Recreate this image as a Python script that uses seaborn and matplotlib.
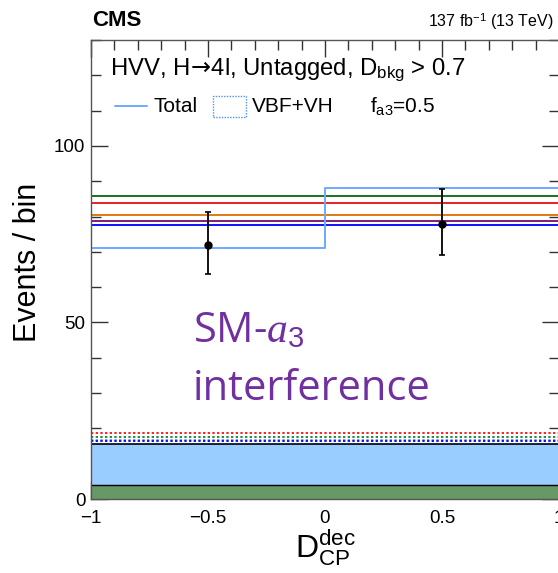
import matplotlib
matplotlib.use("Agg")
import matplotlib.pyplot as plt
import seaborn as sns
import numpy as np
import pandas as pd
from matplotlib.lines import Line2D
from matplotlib.patches import Rectangle
from matplotlib.ticker import MultipleLocator

# ---- data ----
bin_edges = [-1.0, 0.0, 1.0]
total_vbfvh = [71.1, 88.2]
obs_x = [-0.5, 0.5]
obs_y = [71.8, 78.0]
obs_err_lo = [8.2, 8.9]
obs_err_hi = [9.6, 9.9]
hyp_solid_vals = [85.7, 83.7, 80.4, 78.6, 77.7]
hyp_solid_cols = ["#1f6f1f", "#e8202a", "#e07a10", "#7a1f7a", "#1010ff"]
hyp_dot_vals = [18.6, 17.7, 16.7, 16.4]
hyp_dot_cols = ["#ff2020", "#2e8b2e", "#6a9cff", "#1010ff"]
bkg_zx = [4.0, 4.0]
bkg_total = [15.7, 15.7]

sns.set_theme(style="white")
plt.rcParams['font.family'] = ['Liberation Sans', 'DejaVu Sans']
plt.rcParams['text.color'] = 'black'
plt.rcParams['xtick.color'] = 'black'
plt.rcParams['ytick.color'] = 'black'
plt.rcParams['axes.labelcolor'] = 'black'
plt.rcParams['mathtext.fontset'] = 'custom'
plt.rcParams['mathtext.it'] = 'Liberation Serif:italic'
plt.rcParams['mathtext.rm'] = 'Liberation Sans'
plt.rcParams['mathtext.sf'] = 'DejaVu Sans'

W, H = 558, 573
fig = plt.figure(figsize=(W / 100, H / 100), dpi=100)
ax = fig.add_axes([91 / W, 1 - 499 / H, (559 - 91) / W, (499 - 40) / H])

# stacked fills
edges = np.array(bin_edges)
zx_steps = np.append(bkg_zx, bkg_zx[-1])
tot_steps = np.append(bkg_total, bkg_total[-1])
ax.fill_between(edges, 0, zx_steps, step="post", color="#669966", lw=0, zorder=1)
ax.fill_between(edges, zx_steps, tot_steps, step="post", color="#99ccff", lw=0, zorder=1)
ax.step(edges, zx_steps, where="post", color="black", lw=1.0, zorder=2)
ax.step(edges, tot_steps, where="post", color="black", lw=1.2, zorder=2)

# dotted hypothesis lines (low)
for v, c in zip(hyp_dot_vals, hyp_dot_cols):
    df = pd.DataFrame({"x": edges, "y": [v] * len(edges)})
    sns.lineplot(data=df, x="x", y="y", color=c, lw=1.4, ls=(0, (1.2, 1.2)), ax=ax, zorder=3)

# solid hypothesis lines
for v, c in zip(hyp_solid_vals, hyp_solid_cols):
    df = pd.DataFrame({"x": edges, "y": [v] * len(edges)})
    sns.lineplot(data=df, x="x", y="y", color=c, lw=1.4, ax=ax, zorder=3)

# total step
df_t = pd.DataFrame({"x": edges, "y": np.append(total_vbfvh, total_vbfvh[-1])})
sns.lineplot(data=df_t, x="x", y="y", color="#6fa8ff", lw=1.4, drawstyle="steps-post", ax=ax, zorder=4)

# observed data
ax.errorbar(obs_x, obs_y, yerr=[obs_err_lo, obs_err_hi], fmt="o", color="black",
            ms=5, lw=1.3, capsize=2, capthick=1.2, zorder=6)

ax.set_xlim(-1, 1)
ax.set_ylim(0, 130)
ax.set_xlabel("")
ax.set_ylabel("")
ax.xaxis.set_major_locator(MultipleLocator(0.5))
ax.xaxis.set_minor_locator(MultipleLocator(0.1))
ax.yaxis.set_major_locator(MultipleLocator(50))
ax.yaxis.set_minor_locator(MultipleLocator(10))
ax.tick_params(which="both", direction="in", top=True, right=True, bottom=True, left=True,
               color="#333333", labelcolor="black", width=1.0, labelsize=13.5, zorder=10)
ax.tick_params(which="major", length=12)
ax.tick_params(which="minor", length=7)
ax.tick_params(axis="x", pad=8)
ax.tick_params(axis="y", pad=4)
ax.set_xticks([-1, -0.5, 0, 0.5, 1])
ax.set_xticklabels(["\u22121", "\u22120.5", "0", "0.5", "1"])
ax.set_yticks([0, 50, 100])
ax.set_yticklabels(["0", "50", "100"])
for s in ax.spines.values():
    s.set_color("#555555")
    s.set_linewidth(1.0)
    s.set_zorder(10)

# axis labels
fig.text(28 / W, 1 - 262 / H, "Events / bin", rotation=90, ha="center", va="center", fontsize=22)
fig.text(325 / W, 1 - 548 / H, r"$\mathregular{D_{CP}^{dec}}$", ha="center", va="center", fontsize=23)

# header
fig.text(92 / W, 1 - 20 / H, "CMS", ha="left", va="center", fontsize=16, fontweight="bold")
fig.text(554 / W, 1 - 21 / H, r"137 fb$^{\mathregular{-1}}$ (13 TeV)", ha="right", va="center", fontsize=11.5)

# category text
fig.text(110 / W, 1 - 75 / H, r"HVV, H$\!\mathsf{\rightarrow}\!$4l, Untagged, D$_{\mathregular{bkg}}$ > 0.7",
         ha="left", va="baseline", fontsize=17.2)

# legend (manual)
fig.add_artist(Line2D([115 / W, 147 / W], [1 - 106 / H, 1 - 106 / H], color="#6fa8ff", lw=1.4))
fig.text(154 / W, 1 - 106 / H, "Total", ha="left", va="center", fontsize=15)
fig.add_artist(Rectangle((213 / W, 1 - 117 / H), 33 / W, 21 / H, fill=False,
                         edgecolor="#4f8fff", lw=1.0, ls=(0, (1, 1)), transform=fig.transFigure))
fig.text(252 / W, 1 - 106 / H, "VBF+VH", ha="left", va="center", fontsize=15)
fig.text(370 / W, 1 - 106 / H, r"f$_{\mathregular{a3}}$=0.5", ha="left", va="center", fontsize=15)

# annotation
purple = "#7030a0"
fig.text(193 / W, 1 - 342 / H, r"SM-$a_3$", ha="left", va="baseline", fontsize=30,
         color=purple, family=["Open Sans", "DejaVu Sans"])
fig.text(193 / W, 1 - 400 / H, "interference", ha="left", va="baseline", fontsize=30,
         color=purple, family=["Open Sans", "DejaVu Sans"])

fig.savefig("out.png", dpi=100)
